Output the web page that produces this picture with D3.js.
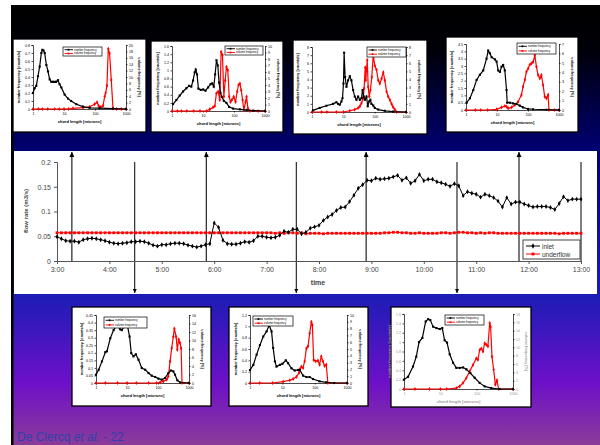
<!DOCTYPE html>
<html>
<head>
<meta charset="utf-8">
<script src="https://cdn.jsdelivr.net/npm/d3@7"></script>
<style>
body { margin: 0; background: #fff; }
svg { display: block; font-family: "Liberation Sans", Arial, sans-serif; }
</style>
</head>
<body>
<div id="slide"></div>
<script>
// ---- main chart data (5 minute samples from 3:00 to 13:00) ----
const timeLabels = ["3:00","4:00","5:00","6:00","7:00","8:00","9:00","10:00","11:00","12:00","13:00"];
const inletFlow = [
  0.049,0.045,0.041,0.040,0.040,0.038,0.043,0.045,0.046,0.045,0.043,0.041,
  0.038,0.036,0.035,0.036,0.037,0.039,0.039,0.040,0.039,0.036,0.032,0.030,
  0.033,0.033,0.035,0.036,0.036,0.035,0.032,0.030,0.028,0.030,0.033,0.035,
  0.077,0.068,0.042,0.035,0.034,0.034,0.036,0.039,0.038,0.041,0.050,0.050,
  0.048,0.047,0.048,0.052,0.060,0.058,0.064,0.064,0.055,0.058,0.066,0.069,
  0.072,0.082,0.089,0.094,0.102,0.108,0.109,0.120,0.133,0.147,0.154,0.163,
  0.162,0.167,0.165,0.166,0.167,0.170,0.173,0.163,0.168,0.157,0.162,0.175,
  0.162,0.165,0.165,0.160,0.158,0.155,0.151,0.156,0.152,0.132,0.140,0.137,
  0.135,0.129,0.135,0.132,0.128,0.121,0.109,0.128,0.115,0.119,0.119,0.115,
  0.112,0.109,0.110,0.110,0.110,0.108,0.104,0.116,0.130,0.122,0.125,0.125,
  0.125
];
const underflow = [
  0.057,0.057,0.057,0.057,0.057,0.057,0.057,0.057,0.057,0.057,0.057,0.057,
  0.057,0.057,0.057,0.057,0.057,0.057,0.057,0.057,0.057,0.057,0.057,0.057,
  0.057,0.057,0.057,0.057,0.057,0.057,0.057,0.057,0.057,0.057,0.057,0.057,
  0.057,0.057,0.057,0.057,0.057,0.057,0.057,0.057,0.057,0.057,0.057,0.057,
  0.057,0.057,0.056,0.057,0.056,0.057,0.057,0.056,0.057,0.055,0.056,0.056,
  0.056,0.055,0.056,0.056,0.056,0.056,0.056,0.056,0.056,0.056,0.056,0.056,
  0.056,0.056,0.056,0.057,0.057,0.058,0.058,0.057,0.057,0.056,0.056,0.057,
  0.056,0.056,0.056,0.056,0.057,0.057,0.056,0.057,0.058,0.058,0.057,0.057,
  0.056,0.057,0.056,0.057,0.057,0.056,0.056,0.056,0.056,0.056,0.056,0.056,
  0.056,0.056,0.056,0.056,0.056,0.056,0.056,0.055,0.056,0.056,0.056,0.056,
  0.056
];
// times at which the distributions were measured
const sampleTimes = ["3:17","4:29","5:51","7:34","8:54","10:38","11:49","13:00"];
const sampleDir = ["up","down","up","down","up","down","up","none"];

// ---- chord length distributions: [chord length (microns), value] ----
const top1Number = [[1,0.2],[1.13,0.26],[1.28,0.29],[1.45,0.41],[1.64,0.53],[1.86,0.70],[2.0,0.74],[2.2,0.73],[2.38,0.70],[2.7,0.55],[3.05,0.47],[3.45,0.37],[3.9,0.34],[4.4,0.34],[5.0,0.34],[5.6,0.34],[6.4,0.36],[7.2,0.31],[8.2,0.27],[10.5,0.18],[13.5,0.13],[17,0.10],[25,0.06],[41,0.03],[67,0.015],[141,0.01],[380,0.005],[1000,0]];
const top1Volume = [[1,0],[1.5,0],[2,0],[3,0],[5,0],[7,0],[10,0],[14,0],[19.5,0.2],[41,0.4],[67,0.7],[97,1.5],[116,2.1],[131,1.0],[152,0.6],[181,1.0],[205,3.9],[220,5.0],[243,7.3],[268,18.8],[295,17.4],[335,9.1],[380,0.2],[490,0],[700,0],[1000,0]];

const top2Number = [[1.08,0.17],[1.38,0.27],[1.77,0.38],[2.27,0.48],[2.9,0.56],[3.55,0.62],[4.2,0.6],[4.78,0.75],[5.4,0.95],[5.83,1.02],[6.43,0.9],[7.1,0.55],[8.45,0.52],[10.1,0.53],[12,0.5],[14.6,0.58],[17.5,0.66],[19.8,0.68],[22.3,0.6],[24.6,0.9],[27.2,1.25],[30,1.12],[33,0.7],[36.6,0.45],[40.4,0.35],[47,0.25],[57,0.2],[70,0.1],[94,0.06],[155,0.04],[254,0.02],[417,0.01],[1000,0]];
const top2Volume = [[1,0],[1.5,0],[2,0],[3,0],[5,0],[8,0],[12.9,0],[16.5,0.25],[21,0.56],[24,0.76],[27,2.7],[30.8,3.0],[34.8,1.7],[38.5,9.1],[42.5,8.6],[47,2.2],[52,4.7],[57,6.8],[63,6.3],[70,2.2],[77,1.4],[85,1.7],[98,2.2],[112,1.4],[127,3.0],[140,4.0],[155,4.2],[171,3.2],[189,1.7],[208,0.15],[236,1.4],[254,2.2],[281,0.4],[326,0],[600,0],[1000,0]];

const top3Number = [[1.08,0.2],[1.76,0.5],[2.88,0.77],[4.7,1.0],[6.0,1.2],[6.8,1.0],[7.7,0.9],[8.7,1.3],[9.4,1.7],[10.1,3.5],[10.6,7.3],[11.4,4.3],[12.6,3.1],[14.2,3.9],[16.1,4.4],[18.1,3.9],[20.5,2.7],[23.2,1.9],[26.2,1.5],[29.7,1.9],[33.6,1.5],[38,1.7],[41,2.7],[45,1.9],[48.5,1.5],[55,1.9],[60,0.7],[67,1.3],[73,1.5],[79,1.0],[90,0.8],[101,0.5],[130,0.3],[211,0.15],[390,0.05],[1000,0]];
const top3Volume = [[1,0],[2,0],[3,0],[6,0],[10,0],[16.1,0.15],[23.2,0.3],[29.7,0.5],[33.6,0.7],[38,1.1],[43,1.7],[46,2.9],[50,5.5],[52,3.9],[58,6.4],[62,3.1],[67,1.9],[73,2.7],[81,4.3],[90,7.0],[101,5.7],[114,5.2],[130,3.9],[146,3.5],[166,4.1],[188,4.9],[211,3.9],[240,2.5],[270,1.9],[305,1.5],[346,1.0],[390,0.6],[440,0.3],[500,0],[1000,0]];

const top4Number = [[1.05,0.5],[1.34,0.8],[1.72,1.36],[2.2,2.05],[2.8,2.4],[3.6,2.7],[4.6,3.5],[5.2,4.05],[5.9,3.86],[6.7,3.6],[8.6,3.45],[9.7,3.3],[10.9,2.7],[12.4,2.6],[14,2.95],[15.8,3.07],[17.9,2.7],[20.3,1.36],[21.3,0.5],[26,0.5],[33,0.45],[42.5,0.41],[54,0.3],[69,0.18],[100,0.07],[146,0.05],[394,0.02],[1000,0]];
const top4Volume = [[1,0],[2,0],[3,0],[5,0],[9.7,0.07],[14,0.28],[17.9,0.42],[20.3,0.35],[23,0.18],[29.4,0.28],[37.6,0.53],[48,0.88],[61.5,1.6],[69,2.47],[79,3.2],[89,4.06],[101,4.4],[114,4.8],[130,4.95],[146,5.1],[166,5.8],[187,4.6],[211,3.7],[240,3.36],[271,3.7],[306,2.65],[346,1.41],[394,1.24],[445,1.6],[475,0],[700,0],[1000,0]];

const bot1Number = [[1,0.055],[1.22,0.088],[1.56,0.143],[2.0,0.204],[2.26,0.21],[2.89,0.296],[3.7,0.35],[4.7,0.384],[6.05,0.355],[6.8,0.35],[8.15,0.373],[9.9,0.40],[12.1,0.307],[13.7,0.198],[16.2,0.176],[19.3,0.19],[23.5,0.154],[30,0.099],[38.6,0.088],[49.3,0.066],[63,0.048],[81,0.04],[103,0.029],[132,0.022],[169,0.033],[216,0.066],[258,0.083],[312,0.077],[354,0.055],[420,0.018],[515,0.004],[1000,0]];
const bot1Volume = [[1,0],[2,0],[5,0],[10,0],[20,0],[50,0],[90,0],[117,0.15],[150,0.4],[191,0.8],[216,1.56],[245,5.1],[277,8.2],[312,10.9],[337,12.8],[384,10.9],[420,7.8],[465,10.3],[515,9.4],[556,8.2],[595,0],[1000,0]];

const bot2Number = [[1,0.23],[1.27,0.32],[1.6,0.5],[2.03,0.67],[2.57,0.82],[3.26,0.91],[3.93,1.02],[4.64,0.91],[5.2,0.62],[5.9,0.38],[6.6,0.29],[8.4,0.32],[10.1,0.34],[12.8,0.40],[15.1,0.35],[19.1,0.26],[24.2,0.22],[30.6,0.23],[34.5,0.23],[43.6,0.13],[55.6,0.105],[70,0.105],[88.7,0.07],[142,0.03],[228,0.012],[400,0],[1000,0]];
const bot2Volume = [[1,0],[2,0],[5,0],[10.6,0.2],[17,0.4],[21.6,0.6],[27.3,0.9],[32.8,1.5],[34.5,2.0],[38.8,2.4],[43.6,2.2],[49,3.2],[55.6,5.1],[62.4,5.4],[70,7.3],[79,9.0],[85,8.5],[93,3.4],[107,3.2],[126,3.3],[142,2.7],[160,3.9],[180,3.2],[202,2.5],[228,2.7],[256,0],[1000,0]];

const bot3Number = [[1,0.2],[1.29,0.26],[1.77,0.48],[2.18,0.69],[2.59,1.0],[3.2,1.09],[3.95,1.44],[4.6,1.49],[5.3,1.47],[6.3,1.33],[7.8,1.3],[9.6,1.28],[11.3,1.3],[13.1,1.04],[15.3,0.99],[18.1,0.74],[22.4,0.56],[27.6,0.45],[34,0.45],[42,0.46],[52,0.42],[67,0.34],[88,0.24],[121,0.13],[166,0.056],[253,0.02],[428,0],[1000,0]];
const bot3Volume = [[1,0],[2,0],[5,0],[10,0],[15,0],[27.6,0.23],[34,0.63],[42,1.44],[52,2.63],[64,4.23],[79,5.76],[98,7.38],[108,7.02],[121,9.36],[134,9.72],[149,9.0],[166,10.98],[184,10.62],[204,10.26],[228,15.84],[242,14.94],[264,7.74],[293,4.68],[326,1.04],[362,2.07],[402,0],[1000,0]];

const chordTicks = [1, 10, 100, 1000];

// ---- page ----
const svg = d3.select("#slide").append("svg").attr("width", 600).attr("height", 445);
const defs = svg.append("defs");
const grad = defs.append("linearGradient").attr("id", "bg")
  .attr("gradientUnits", "userSpaceOnUse")
  .attr("x1", 0).attr("y1", 5).attr("x2", 0).attr("y2", 445);
[[0, "#000000"], [0.1, "#000008"], [0.33, "#000072"], [0.66, "#1c1cb6"], [0.86, "#6e10c8"], [1, "#8a3c98"]]
  .forEach(([o, c]) => grad.append("stop").attr("offset", o).attr("stop-color", c));

defs.append("marker").attr("id", "arr")
  .attr("viewBox", "0 0 10 10").attr("refX", 10).attr("refY", 5)
  .attr("markerWidth", 4).attr("markerHeight", 4)
  .attr("orient", "auto")
  .append("path").attr("d", "M0,0L10,5L0,10z").attr("fill", "#000");

svg.append("rect").attr("x", 11).attr("y", 5).attr("width", 589).attr("height", 440).attr("fill", "url(#bg)");
svg.append("rect").attr("x", 11).attr("y", 5).attr("width", 2.5).attr("height", 440).attr("fill", "#000");

// ---- main flow rate chart ----
const toMin = s => { const p = s.split(":").map(Number); return (p[0] - 3) * 60 + p[1]; };
const mainX = d3.scaleLinear().domain([0, 600]).range([57, 581]);
const mainY = d3.scaleLinear().domain([0, 0.2]).range([261, 162]);
const fmt = d => String(+d.toFixed(2));

svg.append("rect").attr("x", 14).attr("y", 151).attr("width", 583).attr("height", 143).attr("fill", "#fff");
const main = svg.append("g");

sampleTimes.forEach((t, i) => {
  const x = mainX(toMin(t));
  const l = main.append("line").attr("x1", x).attr("x2", x);
  if (sampleDir[i] === "up") {
    l.attr("y1", mainY(0)).attr("y2", 152).attr("stroke", "#333").attr("stroke-width", 1.3).attr("marker-end", "url(#arr)");
  } else if (sampleDir[i] === "down") {
    l.attr("y1", mainY(0.2)).attr("y2", 293).attr("stroke", "#000").attr("stroke-width", 1).attr("marker-end", "url(#arr)");
  } else {
    l.attr("y1", mainY(0.2)).attr("y2", mainY(0)).attr("stroke", "#000").attr("stroke-width", 1);
  }
});

const yAx = main.append("g").attr("transform", "translate(57,0)")
  .call(d3.axisLeft(mainY).tickValues([0, 0.05, 0.1, 0.15, 0.2]).tickSize(3).tickFormat(fmt));
const xAx = main.append("g").attr("transform", `translate(0,${mainY(0)})`)
  .call(d3.axisBottom(mainX).tickValues(timeLabels.map(toMin)).tickSize(3).tickFormat((d, i) => timeLabels[i]));
[yAx, xAx].forEach(a => {
  a.selectAll("text").attr("font-size", 7).attr("fill", "#444").attr("font-family", "Liberation Sans, Arial, sans-serif");
  a.selectAll("line,path").attr("stroke", "#555");
});

const lineMain = d3.line().x((d, i) => mainX(i * 5)).y(d => mainY(d));
main.append("path").datum(underflow).attr("d", lineMain).attr("fill", "none").attr("stroke", "#f00").attr("stroke-width", 1);
main.append("g").selectAll("path").data(underflow).join("path")
  .attr("transform", (d, i) => `translate(${mainX(i * 5)},${mainY(d)})`)
  .attr("d", d3.symbol(d3.symbolSquare, 8)).attr("fill", "#f00");
main.append("path").datum(inletFlow).attr("d", lineMain).attr("fill", "none").attr("stroke", "#000").attr("stroke-width", 1);
main.append("g").selectAll("path").data(inletFlow).join("path")
  .attr("transform", (d, i) => `translate(${mainX(i * 5)},${mainY(d)})`)
  .attr("d", d3.symbol(d3.symbolDiamond, 7)).attr("fill", "#000");

main.append("text").attr("transform", "translate(28,211) rotate(-90)")
  .attr("text-anchor", "middle").attr("font-size", 6).attr("font-weight", "bold").attr("fill", "#444")
  .text("flow rate (m3/s)");
main.append("text").attr("x", 318).attr("y", 285).attr("text-anchor", "middle")
  .attr("font-size", 7).attr("font-weight", "bold").attr("fill", "#444").text("time");

const leg = main.append("g").attr("transform", "translate(523,240)");
leg.append("rect").attr("width", 57).attr("height", 19).attr("fill", "#fff").attr("stroke", "#444").attr("stroke-width", 1);
[["inlet", "#000", d3.symbolDiamond], ["underflow", "#f00", d3.symbolSquare]].forEach(([name, c, sym], i) => {
  const yy = 6 + i * 8;
  leg.append("line").attr("x1", 3).attr("x2", 17).attr("y1", yy).attr("y2", yy).attr("stroke", c).attr("stroke-width", 1);
  leg.append("path").attr("transform", `translate(10,${yy})`).attr("d", d3.symbol(sym, 8)).attr("fill", c);
  leg.append("text").attr("x", 19).attr("y", yy + 2.5).attr("font-size", 6.5).attr("fill", "#333").text(name);
});

// ---- small chord length distribution charts ----
function smallChart(c) {
  const g = svg.append("g").attr("transform", `translate(${c.x},${c.y})`);
  g.append("rect").attr("width", c.w).attr("height", c.h).attr("fill", "#fff").attr("stroke", "#000").attr("stroke-width", 1.3);
  const x = d3.scaleLog().domain([1, 1000]).range([c.pl, c.w - c.pr]);
  const yL = d3.scaleLinear().domain([0, c.leftMax]).range([c.h - c.pb, c.pt]);
  const yR = d3.scaleLinear().domain([0, c.rightMax]).range([c.h - c.pb, c.pt]);
  const tc = c.tickColor || "#000";
  const fs = 3.6;

  const aL = g.append("g").attr("transform", `translate(${c.pl},0)`)
    .call(d3.axisLeft(yL).tickValues(d3.range(0, c.leftMax + c.leftStep / 2, c.leftStep)).tickSize(1.5).tickPadding(1.5).tickFormat(fmt));
  const aR = g.append("g").attr("transform", `translate(${c.w - c.pr},0)`)
    .call(d3.axisRight(yR).tickValues(d3.range(0, c.rightMax + c.rightStep / 2, c.rightStep)).tickSize(1.5).tickPadding(1.5).tickFormat(fmt));
  const aB = g.append("g").attr("transform", `translate(0,${c.h - c.pb})`)
    .call(d3.axisBottom(x).tickValues(chordTicks).tickSize(1.5).tickPadding(2).tickFormat(d3.format("d")));
  [aL, aR, aB].forEach(a => {
    a.selectAll("text").attr("font-size", fs).attr("fill", tc);
    a.selectAll("line,path").attr("stroke", "#000").attr("stroke-width", 0.7);
  });

  const midY = (c.pt + c.h - c.pb) / 2;
  g.append("text").attr("transform", `translate(${c.pl - 13},${midY}) rotate(-90)`)
    .attr("text-anchor", "middle").attr("font-size", 3.8).attr("font-weight", "bold").attr("fill", tc)
    .text("number frequency [counts/s]");
  g.append("text").attr("transform", `translate(${c.w - c.pr + 12},${midY}) rotate(90)`)
    .attr("text-anchor", "middle").attr("font-size", 3.8).attr("font-weight", "bold").attr("fill", tc)
    .text("volume frequency [%]");
  g.append("text").attr("x", (c.pl + c.w - c.pr) / 2).attr("y", c.h - c.pb + 14)
    .attr("text-anchor", "middle").attr("font-size", 4).attr("font-weight", "bold").attr("fill", tc)
    .text("chord length [microns]");

  const lnL = d3.line().x(d => x(d[0])).y(d => yL(d[1]));
  const lnR = d3.line().x(d => x(d[0])).y(d => yR(d[1]));
  g.append("path").datum(c.volume).attr("d", lnR).attr("fill", "none").attr("stroke", "#f00").attr("stroke-width", 1.2);
  g.append("g").selectAll("path").data(c.volume).join("path")
    .attr("transform", d => `translate(${x(d[0])},${yR(d[1])})`)
    .attr("d", d3.symbol(d3.symbolDiamond, 5)).attr("fill", "#f00");
  g.append("path").datum(c.number).attr("d", lnL).attr("fill", "none").attr("stroke", "#000").attr("stroke-width", 1.2);
  g.append("g").selectAll("path").data(c.number).join("path")
    .attr("transform", d => `translate(${x(d[0])},${yL(d[1])})`)
    .attr("d", d3.symbol(d3.symbolSquare, 4.5)).attr("fill", "#000");

  const lg = g.append("g").attr("transform", `translate(${c.lx},${c.ly})`);
  lg.append("rect").attr("width", c.lw).attr("height", c.lh).attr("fill", "#fff").attr("stroke", "#000").attr("stroke-width", 0.7);
  [["number frequency", "#000"], ["volume frequency", "#f00"]].forEach(([name, col], i) => {
    const yy = c.lh * (i === 0 ? 0.3 : 0.72);
    lg.append("line").attr("x1", 1.5).attr("x2", 10).attr("y1", yy).attr("y2", yy).attr("stroke", col).attr("stroke-width", 0.9);
    lg.append("path").attr("transform", `translate(5.5,${yy})`).attr("d", d3.symbol(d3.symbolSquare, 3)).attr("fill", col);
    lg.append("text").attr("x", 11).attr("y", yy + 1).attr("font-size", 2.8).attr("fill", "#000").text(name);
  });
}

const smallCharts = [
  { x: 13, y: 39, w: 133, h: 93, pl: 20, pr: 20, pt: 6, pb: 23, leftMax: 0.8, leftStep: 0.1, rightMax: 20, rightStep: 2, lx: 50, ly: 8, lw: 39, lh: 9, number: top1Number, volume: top1Volume },
  { x: 151, y: 41, w: 132, h: 91, pl: 21, pr: 18, pt: 5, pb: 21, leftMax: 1.6, leftStep: 0.2, rightMax: 10, rightStep: 1, lx: 74, ly: 5, lw: 38, lh: 9, number: top2Number, volume: top2Volume },
  { x: 293, y: 40, w: 134, h: 94, pl: 19, pr: 21, pt: 7, pb: 22, leftMax: 8, leftStep: 1, rightMax: 8, rightStep: 1, lx: 74, ly: 7, lw: 39, lh: 10, number: top3Number, volume: top3Volume },
  { x: 446, y: 37, w: 132, h: 95, pl: 20, pr: 19, pt: 7, pb: 22, leftMax: 4.5, leftStep: 0.5, rightMax: 7, rightStep: 1, lx: 71, ly: 6, lw: 39, lh: 11, number: top4Number, volume: top4Volume },
  { x: 72, y: 307, w: 139, h: 99, pl: 24, pr: 22, pt: 8, pb: 23, leftMax: 0.45, leftStep: 0.05, rightMax: 16, rightStep: 2, lx: 32, ly: 10, lw: 43, lh: 11, number: bot1Number, volume: bot1Volume },
  { x: 229, y: 307, w: 139, h: 99, pl: 21, pr: 21, pt: 8, pb: 23, leftMax: 1.2, leftStep: 0.2, rightMax: 10, rightStep: 1, lx: 24, ly: 9, lw: 40, lh: 10, number: bot2Number, volume: bot2Volume },
  { x: 391, y: 307, w: 140, h: 100, pl: 13, pr: 18, pt: 7, pb: 18, leftMax: 1.6, leftStep: 0.2, rightMax: 18, rightStep: 2, lx: 54, ly: 8, lw: 39, lh: 10, number: bot3Number, volume: bot3Volume, tickColor: "#999" }
];
smallCharts.forEach(smallChart);

// ---- footer ----
const foot = svg.append("text").attr("x", 17).attr("y", 441).attr("font-size", 12).attr("fill", "#3040b0");
foot.append("tspan").text("De Clercq ");
foot.append("tspan").attr("font-style", "italic").text("et al.");
foot.append("tspan").text(" - 22");
</script>
</body>
</html>
